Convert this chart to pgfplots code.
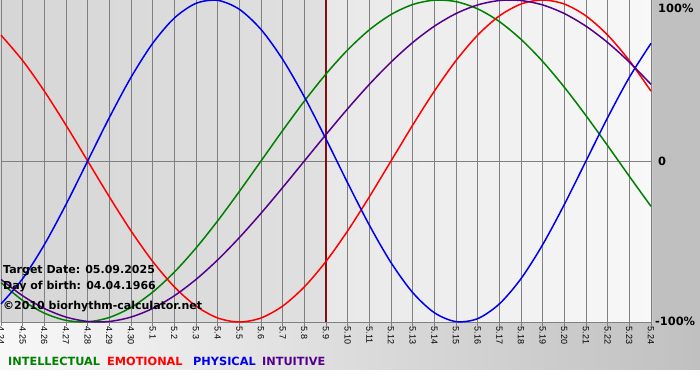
\documentclass[border=0pt]{standalone}
\usepackage{pgfplots}
\pgfplotsset{compat=1.18}
\usepackage{graphicx}
\usepackage{fontspec}
\newfontfamily\dvs{DejaVu Sans}
\newfontfamily\lib{Liberation Sans}
\definecolor{cgreen}{RGB}{0,128,0}
\definecolor{cred}{RGB}{255,0,0}
\definecolor{cblue}{RGB}{0,0,240}
\definecolor{cpurple}{RGB}{85,0,140}
\definecolor{cmark}{RGB}{128,16,16}
\definecolor{cgrid}{RGB}{128,128,128}
\definecolor{bgA}{RGB}{248,248,248}
\definecolor{bgB}{RGB}{192,192,192}
\definecolor{bgL1}{RGB}{214,214,214}
\definecolor{bgL2}{RGB}{224,224,224}
\definecolor{bgR1}{RGB}{232,232,232}
\definecolor{bgR2}{RGB}{248,248,248}
\begin{document}
\begin{tikzpicture}[x=1pt,y=1pt]
\useasboundingbox (0,0) rectangle (700,380);
% backgrounds
\fill[white] (0,0) rectangle (700,380);
\shade[left color=bgA, right color=bgB] (0,11) rectangle (700,58);
\fill[bgB] (652,58) rectangle (700,380);
\shade[left color=bgL1, right color=bgL2] (0,58) rectangle (326,380);
\shade[left color=bgR1, right color=bgR2] (326,58) rectangle (652,380);
\begin{axis}[
  at={(1pt,58pt)}, anchor=south west, scale only axis,
  width=650pt, height=322pt,
  xmin=0, xmax=30, ymin=-1, ymax=1,
  axis line style={draw=none},
  xtick={0,...,30},
  xticklabels={4.24,4.25,4.26,4.27,4.28,4.29,4.30,5.1,5.2,5.3,5.4,5.5,5.6,5.7,5.8,5.9,5.10,5.11,5.12,5.13,5.14,5.15,5.16,5.17,5.18,5.19,5.20,5.21,5.22,5.23,5.24},
  xmajorgrids, grid style={cgrid, line width=0.9pt},
  ytick=\empty,
  tick align=outside, major tick length=4pt,
  xtick style={cgrid, line width=0.9pt},
  xticklabel style={rotate=-90, anchor=west, font=\lib\fontsize{9}{10}\selectfont, inner sep=0.5pt},
  clip=false,
]
\draw[cgrid, line width=0.9pt] (axis cs:0,0) -- (axis cs:30,0);
\draw[cgrid, line width=0.9pt] (axis cs:0,-1) -- (axis cs:30,-1);
\draw[cmark, line width=2pt] (axis cs:15,-1) -- (axis cs:15,1);
% INTELLECTUAL (33 days)
\addplot[cgreen, line width=1.5pt, smooth] coordinates {
(0,-0.7557)(1,-0.8660)(2,-0.9450)(3,-0.9898)(4,-0.9989)(5,-0.9718)(6,-0.9096)(7,-0.8146)(8,-0.6901)(9,-0.5406)(10,-0.3717)(11,-0.1893)(12,0)(13,0.1893)(14,0.3717)(15,0.5406)(16,0.6901)(17,0.8146)(18,0.9096)(19,0.9718)(20,0.9989)(21,0.9898)(22,0.9450)(23,0.8660)(24,0.7557)(25,0.6182)(26,0.4582)(27,0.2817)(28,0.0951)(29,-0.0951)(30,-0.2817)};
% EMOTIONAL (28 days)
\addplot[cred, line width=1.5pt, smooth] coordinates {
(0,0.7818)(1,0.6235)(2,0.4339)(3,0.2225)(4,0)(5,-0.2225)(6,-0.4339)(7,-0.6235)(8,-0.7818)(9,-0.9010)(10,-0.9749)(11,-1)(12,-0.9749)(13,-0.9010)(14,-0.7818)(15,-0.6235)(16,-0.4339)(17,-0.2225)(18,0)(19,0.2225)(20,0.4339)(21,0.6235)(22,0.7818)(23,0.9010)(24,0.9749)(25,1)(26,0.9749)(27,0.9010)(28,0.7818)(29,0.6235)(30,0.4339)};
% PHYSICAL (23 days)
\addplot[cblue, line width=1.5pt, smooth] coordinates {
(0,-0.8879)(1,-0.7308)(2,-0.5196)(3,-0.2698)(4,0)(5,0.2698)(6,0.5196)(7,0.7308)(8,0.8879)(9,0.9791)(10,0.9977)(11,0.9423)(12,0.8170)(13,0.6310)(14,0.3984)(15,0.1362)(16,-0.1362)(17,-0.3984)(18,-0.6310)(19,-0.8170)(20,-0.9423)(21,-0.9977)(22,-0.9791)(23,-0.8879)(24,-0.7308)(25,-0.5196)(26,-0.2698)(27,0)(28,0.2698)(29,0.5196)(30,0.7308)};
% INTUITIVE (38 days)
\addplot[cpurple, line width=1.5pt, smooth] coordinates {
(0,-0.7357)(1,-0.8372)(2,-0.9158)(3,-0.9694)(4,-0.9966)(5,-0.9966)(6,-0.9694)(7,-0.9158)(8,-0.8372)(9,-0.7357)(10,-0.6142)(11,-0.4759)(12,-0.3247)(13,-0.1646)(14,0)(15,0.1646)(16,0.3247)(17,0.4759)(18,0.6142)(19,0.7357)(20,0.8372)(21,0.9158)(22,0.9694)(23,0.9966)(24,0.9966)(25,0.9694)(26,0.9158)(27,0.8372)(28,0.7357)(29,0.6142)(30,0.4759)};
\end{axis}
% texts
\node[anchor=west, inner sep=0pt, font=\dvs\bfseries\fontsize{11}{12}\selectfont] at (3,109) {Target Date: 05.09.2025};
\node[anchor=west, inner sep=0pt, font=\dvs\bfseries\fontsize{11}{12}\selectfont] at (3,93) {Day of birth: 04.04.1966};
\node[anchor=west, inner sep=0pt, font=\dvs\bfseries\fontsize{11}{12}\selectfont] at (3,73) {©2010 biorhythm-calculator.net};
\node[anchor=west, inner sep=0pt, font=\dvs\bfseries\fontsize{11.4}{12}\selectfont] at (658,372) {100\%};
\node[anchor=west, inner sep=0pt, font=\dvs\bfseries\fontsize{11.4}{12}\selectfont] at (658,219) {0};
\node[anchor=west, inner sep=0pt, font=\dvs\bfseries\fontsize{11.4}{12}\selectfont] at (655,59) {-100\%};
\node[anchor=west, inner sep=0pt, font=\dvs\bfseries\fontsize{11.3}{12}\selectfont, text=cgreen] at (8,19) {INTELLECTUAL};
\node[anchor=west, inner sep=0pt, font=\dvs\bfseries\fontsize{11.3}{12}\selectfont, text=cred] at (107,19) {EMOTIONAL};
\node[anchor=west, inner sep=0pt, font=\dvs\bfseries\fontsize{11.3}{12}\selectfont, text=cblue] at (193,19) {PHYSICAL};
\node[anchor=west, inner sep=0pt, font=\dvs\bfseries\fontsize{11.3}{12}\selectfont, text=cpurple] at (262,19) {INTUITIVE};
\end{tikzpicture}
\end{document}
